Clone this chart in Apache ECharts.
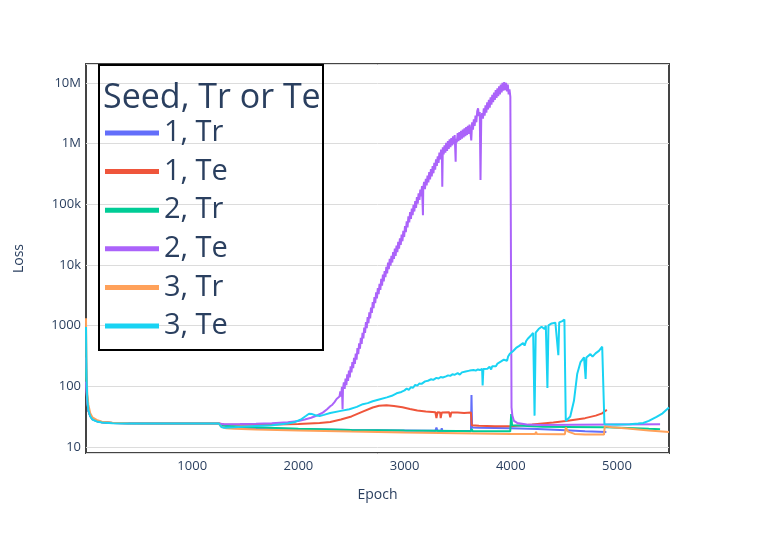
<!DOCTYPE html>
<html>
<head>
<meta charset="utf-8">
<script src="https://cdn.jsdelivr.net/npm/echarts@6/dist/echarts.min.js"></script>
<style>html,body{margin:0;padding:0;background:#fff}#c{width:761px;height:545px}</style>
</head>
<body>
<div id="c"></div>
<script>
const seriesNames = ['1, Tr', '1, Te', '2, Tr', '2, Te', '3, Tr', '3, Te'];
const seriesColors = ['#636efa', '#EF553B', '#00cc96', '#ab63fa', '#FFA15A', '#19d3f3'];
const yTickValues = [10, 100, 1000, 10000, 100000, 1000000, 10000000];
const yTickLabels = ['10', '100', '1000', '10k', '100k', '1M', '10M'];

const seed1Tr = [[0,300],[5,110],[12,60],[22,41],[40,33],[60,29.5],[100,27],[150,25.8],[250,25],[400,24.7],[800,24.6],[1250,24.5],
 [1290,21.5],[1400,21],[1600,20.5],[2000,19.8],[2500,19.2],[3000,18.8],[3290,18.6],[3300,21],[3310,18.6],[3345,18.6],[3350,20.5],[3356,18.6],[3600,18.4],[3625,18.4],
 [3630,72],[3636,21],[3700,20.8],[4000,20.4],[4250,19.8],[4518,19],[4700,18.3],[4900,17.8]];

const seed1Te = [[0,150],[5,90],[12,58],[22,40],[40,32.5],[60,29],[100,26.8],[150,25.7],[250,25],[400,24.7],[800,24.6],[1250,24.5],
 [1300,23.5],[1500,23.3],[1800,23.5],[2000,24],[2200,25],[2300,26],[2400,28.5],[2500,32],[2600,38],[2700,45],[2760,48],[2830,49],[2900,47.5],[2980,45.5],
 [3050,42.5],[3120,40],[3200,38.5],[3290,37.5],[3300,30],[3310,37.5],[3335,37],[3340,30],[3350,37],[3420,37.5],[3430,31],[3440,37],[3500,37],[3560,36.5],[3625,37],
 [3632,23],[3700,22.5],[3850,22],[4000,22],[4200,23.5],[4400,25.5],[4520,27],[4700,30],[4800,33],[4860,36],[4895,40],[4905,41]];

const seed2Tr = [[0,200],[5,100],[12,59],[22,40.5],[40,32.8],[60,29.2],[100,26.9],[150,25.7],[250,25],[400,24.7],[800,24.6],[1250,24.5],
 [1290,22.5],[1500,21.5],[2000,20],[2500,19.2],[3000,18.7],[3500,18.4],[3625,18.3],[3632,20],[3640,18.3],[3995,18.2],
 [4004,35],[4012,23],[4030,21.8],[4300,21.6],[4515,21.5],[4520,20.5],[4530,21.4],[4880,21.3],[4890,22.3],[4900,21.2],[5100,20.6],[5300,20],[5406,19.7]];

const seed2Te = [[0,120],[5,80],[12,58],[22,40],[40,32.5],[60,29],[100,26.8],[150,25.7],[250,25],[400,24.7],[800,24.6],[1250,24.5],
 [1300,23.8],[1450,24],[1600,24.3],[1750,24.8],[1900,25.6],[2000,27],[2060,28.5],[2120,30.5],[2180,33.5],[2230,37],[2270,42],[2300,47],[2320,50],[2340,55],
 [2360,62],[2375,66],[2387,68],[2395,83],[2403,68],[2410,98],[2416,42],[2420,91],[2428,117],[2436,91],[2444,135],[2452,105],[2460,158],[2468,123],[2476,182],
 [2484,141],[2492,214],[2500,170],[2508,251],[2516,200],[2524,295],[2532,234],[2540,347],[2548,275],[2556,427],[2564,339],[2572,513],[2580,417],[2588,631],
 [2596,501],[2604,759],[2612,617],[2620,933],[2628,759],[2636,1148],[2644,912],[2652,1380],[2660,1096],[2668,1660],[2676,1318],[2684,1995],[2692,1622],
 [2700,2455],[2708,1950],[2716,2951],[2724,2344],[2732,3548],[2740,2818],[2748,4169],[2756,3311],[2764,4898],[2772,3890],[2780,5888],[2788,4571],[2796,6918],
 [2804,5370],[2812,7943],[2820,6310],[2828,9333],[2836,7244],[2844,10960],[2852,8511],[2860,12590],[2868,9772],[2876,14130],[2884,10960],[2892,16220],
 [2900,12590],[2908,18620],[2916,14130],[2924,20890],[2932,16220],[2940,23990],[2948,18620],[2956,27540],[2964,21380],[2972,31620],[2980,24550],[2988,36310],
 [2996,28840],[3004,43650],[3012,34670],[3020,52480],[3028,41690],[3036,63100],[3044,50120],[3052,74130],[3060,57540],[3068,85110],[3076,66070],[3084,97720],
 [3092,75860],[3100,112200],[3108,87100],[3116,131800],[3124,102300],[3132,151400],[3140,117500],[3148,173800],[3156,134900],[3164,199500],[3173,66000],
 [3176,186200],[3184,234400],[3192,177800],[3200,263000],[3208,204200],[3216,295100],[3224,229100],[3232,338800],[3240,257000],[3248,380200],[3256,288400],
 [3264,426600],[3272,323600],[3280,478600],[3288,371500],[3296,549500],[3304,426600],[3312,616600],[3320,478600],[3328,707900],[3336,549500],[3344,794300],
 [3352,602600],[3355,195000],[3360,871000],[3368,660700],[3376,933300],[3384,707900],[3392,1023000],[3400,758600],[3408,1096000],[3416,812800],[3424,1175000],
 [3432,871000],[3440,1230000],[3448,933300],[3456,1318000],[3464,977200],[3472,1380000],[3481,500000],[3484,1202000],[3492,1047000],[3500,1479000],[3508,1096000],
 [3516,1549000],[3524,1148000],[3532,1622000],[3540,1202000],[3548,1698000],[3556,1259000],[3564,1778000],[3572,1318000],[3580,1862000],[3588,1380000],
 [3596,1950000],[3604,1445000],[3612,2042000],[3620,1549000],[3628,1122000],[3636,2239000],[3644,1698000],[3652,2512000],[3660,1950000],[3668,2884000],
 [3676,2239000],[3684,3388000],[3692,3802000],[3700,2818000],[3708,3311000],[3715,251200],[3722,2630000],[3730,3162000],[3738,2570000],[3746,3802000],
 [3754,2884000],[3762,4266000],[3770,3236000],[3778,4786000],[3786,3631000],[3794,5248000],[3802,3890000],[3810,5754000],[3818,4365000],[3826,6310000],
 [3834,4786000],[3842,6918000],[3850,5248000],[3858,7586000],[3866,5623000],[3874,8128000],[3882,6026000],[3890,8710000],[3898,6457000],[3906,9333000],
 [3914,6918000],[3922,10000000],[3930,7413000],[3938,10230000],[3943,9120000],[3948,7586000],[3956,10000000],[3964,7244000],[3972,9333000],[3980,6457000],
 [3988,7762000],[3996,5888000],[4005,6310000],
 [4007,45],[4015,33],[4030,27],[4060,25],[4150,23.5],[4300,23.2],[4600,23.4],[5000,23.6],[5406,23.8]];

const seed3Tr = [[0,1330],[5,200],[12,75],[22,50],[40,36],[60,31],[100,28],[150,26.2],[250,25.2],[400,24.8],[800,24.6],[1250,24.6],
 [1270,22],[1320,20.5],[1400,20],[1600,19.5],[2000,18.8],[2500,18],[3000,17.4],[3500,16.9],[4000,16.5],[4230,16.4],[4238,17.8],[4246,16.4],[4450,16.3],[4455,17.3],
 [4462,16.3],[4510,16.3],[4518,21],[4540,18],[4600,16.5],[4700,16.2],[4878,16.1],[4885,22],[4950,21.3],[5100,20.2],[5300,18.8],[5490,17.8]];

const seed3Te = [[0,950],[5,150],[12,62],[22,41],[40,32],[60,28.5],[100,26.5],[150,25.4],[250,24.8],[400,24.6],[800,24.5],[1250,24.5],
 [1275,21.5],[1300,20.8],[1400,21.2],[1500,21.8],[1600,22.3],[1750,23],[1900,24.5],[1970,26],[2030,29],[2070,32.5],[2100,35.5],[2115,37],[2130,35],[2160,33.5],
 [2200,32.5],[2240,34],[2300,36.5],[2400,39.5],[2480,42],[2550,46],[2607,51],[2653,53],[2700,57],[2760,61],[2833,66],[2880,70],[2925,77],[2970,81],
 [3000,86],[3020,92],[3040,88],[3060,97],[3080,95],[3100,106],[3120,103],[3140,112],[3160,110],[3193,121],[3220,124],[3250,131],[3270,128],[3300,138],[3320,135],
 [3340,143],[3360,140],[3373,148],[3390,146],[3410,152],[3430,149],[3450,158],[3470,155],[3500,165],[3520,156],[3540,170],[3553,168],[3575,176],[3590,172],
 [3613,182],[3630,178],[3650,186],[3670,182],[3690,190],[3710,186],[3730,195],[3735,104],[3742,194],[3760,200],[3780,196],[3800,210],[3815,190],[3825,215],
 [3842,222],[3860,215],[3875,238],[3890,232],[3905,255],[3920,245],[3935,275],[3950,280],[3965,265],[3975,310],[3991,345],[4005,330],[4020,380],[4035,360],
 [4050,430],[4065,400],[4080,465],[4095,440],[4116,520],[4130,470],[4145,560],[4160,610],[4175,580],[4190,690],[4205,640],[4211,760],[4224,33],[4235,770],
 [4250,720],[4262,880],[4275,820],[4290,960],[4300,990],[4318,880],[4330,1000],[4345,94],[4355,1010],[4370,940],[4385,1090],[4400,1040],[4420,1120],[4435,1060],
 [4448,326],[4456,1130],[4470,1080],[4485,1190],[4497,1150],[4505,1260],[4512,1280],
 [4518,27],[4530,26],[4560,32],[4595,58],[4626,162],[4657,252],[4675,270],[4690,300],[4700,285],[4705,133],[4712,300],[4730,315],[4750,340],[4770,310],[4798,350],
 [4815,335],[4830,385],[4845,370],[4861,450],[4870,430],[4878,478],
 [4882,23.8],[5000,23.5],[5121,23.8],[5200,24.5],[5247,25],[5300,27],[5373,31.5],[5430,36],[5490,45]];

const seriesData = [seed1Tr, seed1Te, seed2Tr, seed2Te, seed3Tr, seed3Te];

const chart = echarts.init(document.getElementById('c'), null, {renderer: 'canvas'});
const FONT = '"Open Sans", "DejaVu Sans", sans-serif';
const TXT = '#2a3f5f';

chart.setOption({
  animation: false,
  color: seriesColors,
  grid: {left: 86, right: 92, top: 64, bottom: 92, show: true, borderColor: '#444', borderWidth: 2, backgroundColor: 'transparent'},
  xAxis: {
    type: 'value', min: 0, max: 5490, interval: 1000,
    name: 'Epoch', nameLocation: 'middle', nameGap: 35,
    nameTextStyle: {fontFamily: FONT, fontSize: 14, color: TXT},
    axisLine: {show: false}, axisTick: {show: false}, splitLine: {show: false},
    axisLabel: {fontFamily: FONT, fontSize: 13, color: TXT, margin: 7, showMinLabel: false, showMaxLabel: false,
      formatter: function (v) { return String(v); }}
  },
  yAxis: {
    type: 'log', logBase: 10, min: 8, max: 20400000,
    name: 'Loss', nameLocation: 'middle', nameGap: 60,
    nameTextStyle: {fontFamily: FONT, fontSize: 14, color: TXT},
    axisLine: {show: false}, axisTick: {show: false},
    splitLine: {show: true, lineStyle: {color: '#dcdcdc', width: 1}},
    axisLabel: {
      fontFamily: FONT, fontSize: 13, color: TXT, margin: 5, showMinLabel: false, showMaxLabel: false,
      formatter: function (v) {
        const i = yTickValues.findIndex(t => Math.abs(Math.log10(t) - Math.log10(v)) < 1e-6);
        return i >= 0 ? yTickLabels[i] : '';
      }
    }
  },
  legend: {
    orient: 'vertical', left: 105, top: 118, padding: 0,
    data: seriesNames, icon: 'rect', itemWidth: 54, itemHeight: 5, itemGap: 8.6,
    textStyle: {fontFamily: FONT, fontSize: 29, color: TXT, lineHeight: 30}
  },
  graphic: [
    {type: 'rect', z: 10, shape: {x: 99, y: 65, width: 224, height: 285}, style: {fill: 'transparent', stroke: '#000', lineWidth: 2}},
    {type: 'text', z: 10, x: 103, y: 98, style: {text: 'Seed, Tr or Te', font: '34px ' + FONT, fill: TXT, verticalAlign: 'middle', align: 'left'}}
  ],
  series: seriesNames.map((n, i) => ({
    name: n, type: 'line', data: seriesData[i], showSymbol: false, symbol: 'none',
    lineStyle: {width: 2, color: seriesColors[i]}, itemStyle: {color: seriesColors[i]}, sampling: null
  }))
});
</script>
</body>
</html>
